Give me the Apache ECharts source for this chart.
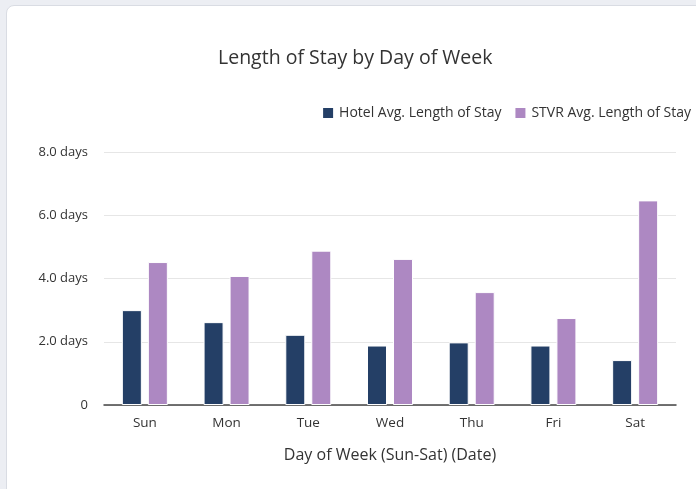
<!DOCTYPE html>
<html>
<head>
<meta charset="utf-8">
<script src="https://cdn.jsdelivr.net/npm/echarts@6/dist/echarts.min.js"></script>
<style>
    html, body { margin: 0; padding: 0; background: #eceef3; }
    #card {
        position: absolute; left: 6px; top: 5px; width: 740px; height: 540px;
        background: #fff; border: 1px solid #d9dce3; border-radius: 8px;
    }
    #chart { position: absolute; left: 0; top: 0; width: 696px; height: 489px; }
</style>
</head>
<body>
<div id="card"></div>
<div id="chart"></div>
<script>
    // data
    var days = ['Sun', 'Mon', 'Tue', 'Wed', 'Thu', 'Fri', 'Sat']
    var hotelStay = [3.0, 2.62, 2.22, 1.88, 1.98, 1.88, 1.42]
    var stvrStay = [4.52, 4.08, 4.88, 4.62, 3.57, 2.75, 6.47]

    var chart = echarts.init(document.getElementById('chart'))
    var font = '"Open Sans", "Noto Sans", sans-serif'

    chart.setOption({
        textStyle: { fontFamily: font },
        title: {
            text: 'Length of Stay by Day of Week',
            left: 213,
            top: 43,
            textStyle: { fontFamily: font, fontSize: 19.5, fontWeight: 'normal', color: '#333' }
        },
        legend: {
            right: 0,
            top: 101,
            icon: 'rect',
            itemWidth: 12,
            itemHeight: 12,
            itemGap: 12,
            textStyle: { fontFamily: font, fontSize: 14, color: '#333' },
            data: ['Hotel Avg. Length of Stay', 'STVR Avg. Length of Stay']
        },
        grid: { left: 104, right: 20, top: 152, bottom: 84 },
        xAxis: {
            type: 'category',
            data: days,
            name: 'Day of Week (Sun-Sat) (Date)',
            nameLocation: 'middle',
            nameGap: 42,
            nameTextStyle: { fontFamily: font, fontSize: 16, color: '#333' },
            axisLine: { lineStyle: { color: '#444', width: 1.5 } },
            axisTick: { show: false },
            axisLabel: { fontSize: 13.5, color: '#333', margin: 11 }
        },
        yAxis: {
            type: 'value',
            min: 0,
            max: 8,
            interval: 2,
            axisLine: { show: false },
            axisTick: { show: false },
            splitLine: { lineStyle: { color: '#e6e6e6' } },
            axisLabel: {
                fontSize: 13,
                color: '#333',
                margin: 16,
                formatter: function (v) { return v === 0 ? '0' : v.toFixed(1) + ' days' }
            }
        },
        series: [
            {
                name: 'Hotel Avg. Length of Stay',
                type: 'bar',
                data: hotelStay,
                barWidth: 20,
                barGap: '30%',
                itemStyle: { color: '#243f66', borderColor: '#fff', borderWidth: 1 }
            },
            {
                name: 'STVR Avg. Length of Stay',
                type: 'bar',
                data: stvrStay,
                barWidth: 20,
                itemStyle: { color: '#ad88c2', borderColor: '#fff', borderWidth: 1 }
            }
        ]
    })
</script>
</body>
</html>
